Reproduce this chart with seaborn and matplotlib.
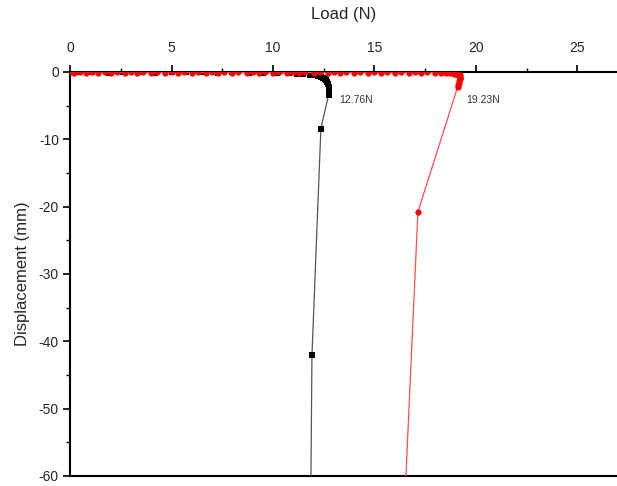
import numpy as np
import matplotlib
matplotlib.use("Agg")
import matplotlib.pyplot as plt
from matplotlib.ticker import MultipleLocator
import seaborn as sns

# ── data ────────────────────────────────────────────────────────────
black_load = [0.0, 0.4, 1.1, 1.9, 2.6, 3.4, 4.2, 5.0, 5.7, 6.5, 7.3, 8.0,
              8.8, 9.5, 10.2, 10.8, 11.2, 11.5, 11.8, 12.0, 12.2, 12.35,
              12.45, 12.55, 12.62, 12.68, 12.72, 12.75, 12.76, 12.74,
              12.36, 11.92, 11.87]
black_disp = [0.0, -0.05, 0.0, -0.1, 0.0, -0.05, -0.1, 0.0, -0.05, 0.0,
              -0.1, -0.05, -0.1, -0.1, -0.15, -0.2, -0.25, -0.3, -0.4,
              -0.5, -0.6, -0.75, -0.9, -1.05, -1.25, -1.5, -1.8, -2.2,
              -2.7, -3.4, -8.4, -42.1, -60.0]

red_load = [0.0, 0.2, 0.5, 0.8, 1.1, 1.4, 1.7, 2.0, 2.3, 2.7, 3.0, 3.3,
            3.6, 4.0, 4.3, 4.7, 5.0, 5.3, 5.6, 6.0, 6.3, 6.7, 7.0, 7.3,
            7.6, 8.0, 8.3, 8.7, 9.0, 9.3, 9.6, 10.0, 10.3, 10.7, 11.0,
            11.3, 11.6, 12.0, 12.3, 12.7, 13.0, 13.3, 13.6, 14.0, 14.3,
            14.7, 15.0, 15.3, 15.6, 16.0, 16.3, 16.7, 17.0, 17.3, 17.6,
            18.0, 18.3, 18.5, 18.7, 18.9, 19.0, 19.1, 19.2, 19.23, 19.22,
            19.2, 19.18, 19.15, 19.12, 19.1, 17.14, 16.55]
red_disp = [0.0, -0.1, 0.0, -0.15, -0.05, -0.1, 0.0, -0.1, -0.05, -0.15,
            0.0, -0.1, -0.05, -0.1, 0.0, -0.15, -0.05, -0.1, 0.0, -0.1,
            -0.05, -0.15, 0.0, -0.1, -0.05, -0.1, 0.0, -0.1, -0.05, -0.15,
            0.0, -0.1, -0.05, -0.1, 0.0, -0.15, -0.05, -0.1, 0.0, -0.1,
            -0.05, -0.15, 0.0, -0.1, -0.05, -0.1, 0.0, -0.1, -0.05, -0.15,
            0.0, -0.1, -0.05, -0.1, 0.0, -0.15, -0.1, -0.15, -0.2, -0.25,
            -0.3, -0.4, -0.5, -0.7, -0.9, -1.1, -1.3, -1.6, -1.9, -2.2,
            -20.8, -60.0]

peaks = [12.76, 19.23]
peak_labels = ["12.76N", "19.23N"]

# ── figure ──────────────────────────────────────────────────────────
sns.set_style("ticks")
plt.rcParams["font.family"] = ["Liberation Sans", "DejaVu Sans"]
plt.rcParams["axes.unicode_minus"] = False

fig = plt.figure(figsize=(6.17, 4.86), dpi=100)
ax = fig.add_axes([0.1135, 0.0206, 0.8865, 0.8313])

# thin lighter connecting lines, solid markers; no marker on the last
# point, which runs off the bottom of the axes
sns.lineplot(x=black_load, y=black_disp, sort=False, estimator=None, ax=ax,
             color="#555555", linewidth=0.9, marker="s", markersize=4,
             markerfacecolor="black", markeredgewidth=0,
             markevery=list(range(len(black_load) - 1)), zorder=3)
sns.lineplot(x=red_load, y=red_disp, sort=False, estimator=None, ax=ax,
             color="#ff4d4d", linewidth=0.9, marker="o", markersize=4.5,
             markerfacecolor="red", markeredgewidth=0,
             markevery=list(range(len(red_load) - 1)), zorder=4)

ax.set_xlim(0, 26.95)
ax.set_ylim(-60, 0)

ax.xaxis.tick_top()
ax.xaxis.set_label_position("top")
ax.xaxis.set_major_locator(MultipleLocator(5))
ax.xaxis.set_minor_locator(MultipleLocator(2.5))
ax.yaxis.set_major_locator(MultipleLocator(10))
ax.yaxis.set_minor_locator(MultipleLocator(5))

ax.tick_params(which="major", length=5, width=1.2, labelsize=10,
               color="black", direction="out", pad=3)
ax.tick_params(axis="x", which="major", pad=7)
ax.tick_params(which="minor", length=3, width=1.0, color="black",
               direction="out")
ax.tick_params(axis="x", which="both", top=True, bottom=False)

for side in ["left", "top", "bottom"]:
    ax.spines[side].set_linewidth(1.5)
    ax.spines[side].set_color("black")
ax.spines["right"].set_visible(False)

ax.set_xlabel("Load (N)", fontsize=12, labelpad=16)
ax.set_ylabel("Displacement (mm)", fontsize=12, labelpad=6)

# peak load annotations
ax.text(peaks[0] + 0.5, -4.2, peak_labels[0], fontsize=7.5, color="#333333",
        ha="left", va="center")
ax.text(peaks[1] + 0.3, -4.2, peak_labels[1], fontsize=7.5, color="#333333",
        ha="left", va="center")

fig.savefig("out.png", dpi=100)
plt.close(fig)
